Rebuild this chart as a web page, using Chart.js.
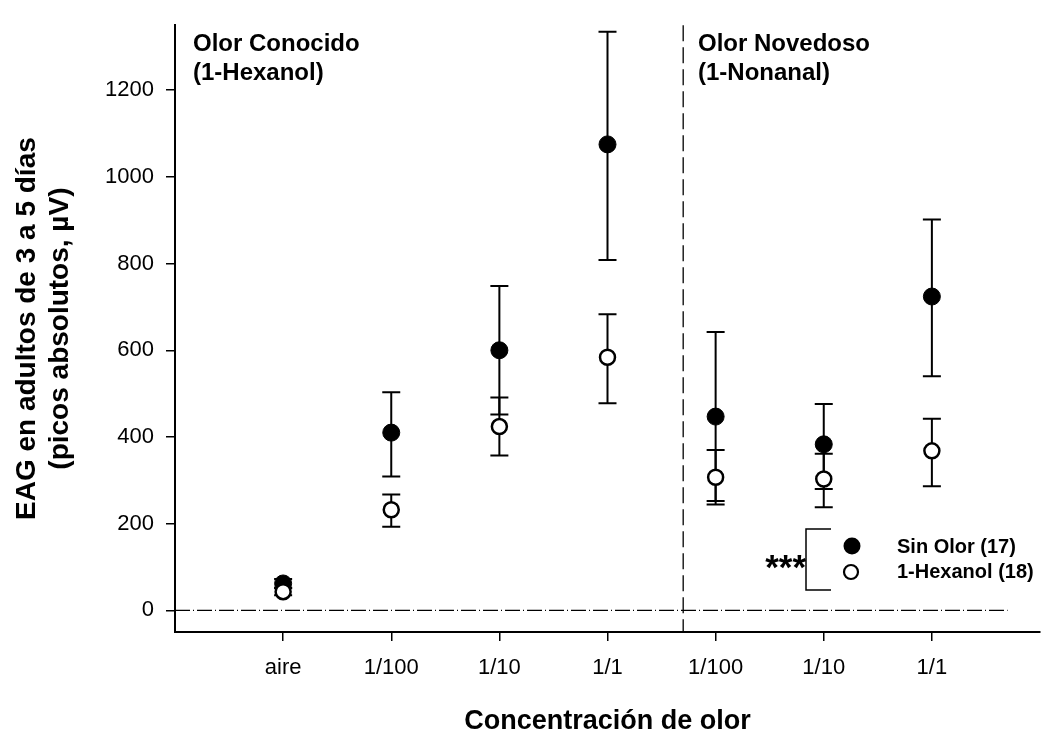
<!DOCTYPE html>
<html>
<head>
<meta charset="utf-8">
<script src="https://cdn.jsdelivr.net/npm/chart.js@4"></script>
<style>
  body { margin: 0; background: #fff; }
  canvas { display: block; }
</style>
</head>
<body>
<canvas id="chart" width="1050" height="738"></canvas>
<script>
// --- DATA ---
const xPos = [1, 2, 3, 4, 5, 6, 7];
const xLabels = ['aire', '1/100', '1/10', '1/1', '1/100', '1/10', '1/1'];
const yTicks = [0, 200, 400, 600, 800, 1000, 1200];

const sinOlorMean = [62, 410, 600, 1075, 447, 383, 724];
const sinOlorHigh = [72, 503, 748, 1335, 642, 476, 902];
const sinOlorLow  = [52, 309, 452, 808, 252, 280, 540];

const hexanolMean = [43, 232, 424, 584, 307, 303, 368];
const hexanolHigh = [51, 267, 491, 683, 370, 361, 442];
const hexanolLow  = [35, 193, 357, 478, 244, 238, 286];

const dividerX = 4.7;     // separa olor conocido / novedoso
const zeroLineEnd = 7.7;

const FONT = '"Liberation Sans", Arial, Helvetica, sans-serif';

// --- PLUGINS ---
const refLines = {
    id: 'refLines',
    beforeDatasetsDraw(chart) {
        const { ctx, chartArea, scales: { x, y } } = chart;
        ctx.save();
        ctx.strokeStyle = '#000';
        ctx.lineWidth = 1.3;
        // zero line
        ctx.setLineDash([15, 3, 1, 3]);
        ctx.beginPath();
        ctx.moveTo(chartArea.left, y.getPixelForValue(0));
        ctx.lineTo(x.getPixelForValue(zeroLineEnd), y.getPixelForValue(0));
        ctx.stroke();
        // divider
        ctx.setLineDash([16, 6]);
        ctx.beginPath();
        ctx.moveTo(x.getPixelForValue(dividerX), chartArea.top);
        ctx.lineTo(x.getPixelForValue(dividerX), chartArea.bottom);
        ctx.stroke();
        ctx.restore();
    }
};

const errorBars = {
    id: 'errorBars',
    beforeDatasetsDraw(chart) {
        const { ctx, scales: { x, y } } = chart;
        ctx.save();
        ctx.strokeStyle = '#000';
        ctx.lineWidth = 2;
        [[sinOlorLow, sinOlorHigh], [hexanolLow, hexanolHigh]].forEach(([lo, hi]) => {
            xPos.forEach((xv, i) => {
                const px = x.getPixelForValue(xv);
                const top = y.getPixelForValue(hi[i]);
                const bot = y.getPixelForValue(lo[i]);
                ctx.beginPath();
                ctx.moveTo(px, top); ctx.lineTo(px, bot);
                ctx.moveTo(px - 9, top); ctx.lineTo(px + 9, top);
                ctx.moveTo(px - 9, bot); ctx.lineTo(px + 9, bot);
                ctx.stroke();
            });
        });
        ctx.restore();
    }
};

const labels = {
    id: 'labels',
    afterDraw(chart) {
        const { ctx } = chart;
        ctx.save();
        ctx.fillStyle = '#000';
        ctx.textBaseline = 'middle';
        ctx.font = 'bold 24px ' + FONT;
        ctx.fillText('Olor Conocido', 193, 44);
        ctx.fillText('(1-Hexanol)', 193, 73);
        ctx.fillText('Olor Novedoso', 698, 44);
        ctx.fillText('(1-Nonanal)', 698, 73);

        // legend
        ctx.font = 'bold 20px ' + FONT;
        ctx.fillText('Sin Olor (17)', 897, 547);
        ctx.fillText('1-Hexanol (18)', 897, 572);
        ctx.beginPath();
        ctx.arc(852, 546, 8.5, 0, Math.PI * 2);
        ctx.fill();
        ctx.beginPath();
        ctx.arc(851, 572, 7, 0, Math.PI * 2);
        ctx.fillStyle = '#fff';
        ctx.fill();
        ctx.lineWidth = 2.2;
        ctx.strokeStyle = '#000';
        ctx.stroke();

        // bracket + significance
        ctx.lineWidth = 1.5;
        ctx.beginPath();
        ctx.moveTo(831, 529); ctx.lineTo(806, 529);
        ctx.lineTo(806, 590); ctx.lineTo(831, 590);
        ctx.stroke();
        ctx.fillStyle = '#000';
        ctx.font = 'bold 35px ' + FONT;
        ctx.textAlign = 'right';
        ctx.fillText('***', 806, 569);
        ctx.restore();
    }
};

// --- CHART ---
const tickFont = { family: FONT, size: 22 };

new Chart(document.getElementById('chart'), {
    type: 'scatter',
    data: {
        datasets: [
            {
                label: '1-Hexanol (18)',
                data: xPos.map((v, i) => ({ x: v, y: hexanolMean[i] })),
                backgroundColor: '#fff',
                borderColor: '#000',
                borderWidth: 2.5,
                pointRadius: 7.5,
                order: 0
            },
            {
                label: 'Sin Olor (17)',
                data: xPos.map((v, i) => ({ x: v, y: sinOlorMean[i] })),
                backgroundColor: '#000',
                borderColor: '#000',
                borderWidth: 1,
                pointRadius: 8.5,
                order: 1
            }
        ]
    },
    options: {
        responsive: false,
        animation: false,
        layout: { padding: { top: 8, right: 8, left: 0, bottom: 0 } },
        plugins: { legend: { display: false }, tooltip: { enabled: false } },
        scales: {
            x: {
                type: 'linear', min: 0, max: 8,
                afterBuildTicks: s => { s.ticks = xPos.map(v => ({ value: v })); },
                afterFit: s => { s.height = 106; },
                ticks: { callback: v => xLabels[v - 1], font: tickFont, color: '#000', padding: 14, maxRotation: 0, autoSkip: false },
                grid: { drawOnChartArea: false, tickLength: 9, color: '#000', lineWidth: 1.5 },
                border: { color: '#000', width: 2 },
                title: { display: true, text: 'Concentración de olor', color: '#000', font: { family: FONT, size: 27, weight: 'bold', lineHeight: 1.2 }, padding: { bottom: 0 } }
            },
            y: {
                min: -50, max: 1350,
                afterBuildTicks: s => { s.ticks = yTicks.map(v => ({ value: v })); },
                afterFit: s => { s.width = 175; },
                ticks: { font: tickFont, color: '#000', padding: 12, callback: v => String(v) },
                grid: { drawOnChartArea: false, tickLength: 9, color: '#000', lineWidth: 1.5 },
                border: { color: '#000', width: 2 },
                title: { display: true, text: ['EAG en adultos de 3 a 5 días', '(picos absolutos, µV)'], color: '#000', font: { family: FONT, size: 28, weight: 'bold', lineHeight: 1.2 }, padding: { top: 10 } }
            }
        }
    },
    plugins: [refLines, errorBars, labels]
});
</script>
</body>
</html>
